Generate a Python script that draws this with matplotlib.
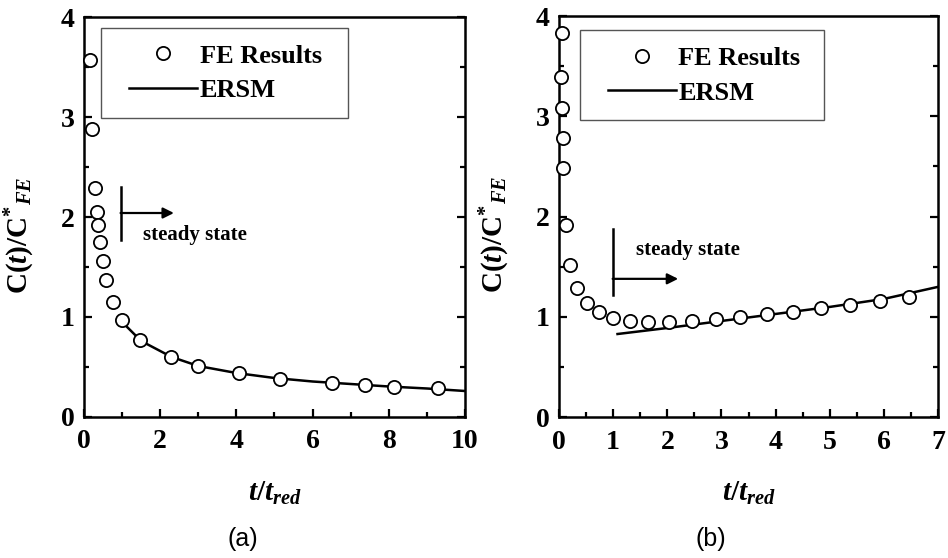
import matplotlib
matplotlib.use("Agg")
import matplotlib.pyplot as plt
from matplotlib.ticker import MultipleLocator
from matplotlib.legend_handler import HandlerLine2D

plt.rcParams["font.family"] = ["Liberation Serif", "DejaVu Serif"]
plt.rcParams["font.weight"] = "bold"
plt.rcParams["mathtext.fontset"] = "custom"
plt.rcParams["mathtext.it"] = "Liberation Serif:italic:bold"
plt.rcParams["mathtext.rm"] = "Liberation Serif:bold"
plt.rcParams["mathtext.bf"] = "Liberation Serif:bold"

# ---- panel (a) data ----
fe_a_x = [0.16, 0.22, 0.29, 0.33, 0.36, 0.42, 0.49, 0.58, 0.77, 1.01, 1.47,
          2.28, 2.99, 4.06, 5.14, 6.52, 7.38, 8.14, 9.28]
fe_a_y = [3.57, 2.88, 2.29, 2.05, 1.92, 1.75, 1.56, 1.37, 1.15, 0.97, 0.77,
          0.60, 0.51, 0.44, 0.38, 0.34, 0.32, 0.30, 0.29]
ersm_a_x = [1.0, 1.5, 2.3, 3.0, 4.0, 5.0, 6.0, 7.0, 8.0, 9.0, 10.0]
ersm_a_y = [0.95, 0.76, 0.60, 0.51, 0.44, 0.39, 0.355, 0.33, 0.305, 0.285, 0.26]

# ---- panel (b) data ----
fe_b_x = [0.06, 0.03, 0.05, 0.07, 0.08, 0.12, 0.20, 0.33, 0.51, 0.73, 1.00,
          1.31, 1.65, 2.04, 2.45, 2.90, 3.35, 3.84, 4.32, 4.84, 5.38, 5.92, 6.46]
fe_b_y = [3.83, 3.39, 3.08, 2.78, 2.48, 1.92, 1.52, 1.29, 1.14, 1.05, 0.99,
          0.96, 0.95, 0.95, 0.96, 0.98, 1.00, 1.03, 1.05, 1.09, 1.12, 1.16, 1.20]
ersm_b_x = [1.08, 2.0, 3.0, 4.0, 5.0, 6.0, 7.0]
ersm_b_y = [0.83, 0.89, 0.96, 1.03, 1.10, 1.18, 1.30]

fig = plt.figure(figsize=(9.48, 5.58), dpi=100)
ax_a = fig.add_axes([0.0886, 0.2527, 0.4019, 0.7168])
ax_b = fig.add_axes([0.5897, 0.2522, 0.3998, 0.7191])


def style_axes(ax, xmax, xmajor, xminor):
    ax.set_xlim(0, xmax)
    ax.set_ylim(0, 4)
    ax.xaxis.set_major_locator(MultipleLocator(xmajor))
    ax.xaxis.set_minor_locator(MultipleLocator(xminor))
    ax.yaxis.set_major_locator(MultipleLocator(1))
    ax.yaxis.set_minor_locator(MultipleLocator(0.5))
    for s in ax.spines.values():
        s.set_linewidth(1.8)
    ax.tick_params(which="both", direction="in", top=False, right=True,
                   width=1.6, labelsize=20)
    ax.tick_params(which="major", length=6)
    ax.tick_params(which="minor", length=3.5)
    ax.tick_params(axis="x", pad=9)
    ax.tick_params(axis="y", pad=7)
    for lab in ax.get_xticklabels() + ax.get_yticklabels():
        lab.set_fontweight("bold")
    ax.set_xlabel(r"$t/t_{red}$", fontsize=21, labelpad=18)
    ax.set_ylabel(r"$\mathbf{C}(t)/\mathbf{C}^{*}{}_{FE}$", fontsize=21)
    ax.yaxis.set_label_coords(-0.124, 0.455)


def draw_panel(ax, fx, fy, ex, ey, leg_box):
    ax.plot(fx, fy, "o", ms=9.5, mfc="white", mec="black", mew=1.3,
            clip_on=False, zorder=3, label="FE Results")
    ax.plot(ex, ey, "-", color="black", lw=1.8, zorder=2, label="ERSM")
    leg = ax.legend(loc="upper left", bbox_to_anchor=leg_box, mode="expand",
                    prop={"family": "Liberation Serif", "weight": "bold", "size": 19},
                    handlelength=3.05, handletextpad=0.08, borderpad=0.6,
                    labelspacing=0.43, fancybox=False, framealpha=1,
                    edgecolor="#555555", borderaxespad=0,
                    handler_map={matplotlib.lines.Line2D: HandlerLine2D(xpad=0.45)})
    leg.get_frame().set_linewidth(1.0)


style_axes(ax_a, 10, 2, 1)
draw_panel(ax_a, fe_a_x, fe_a_y, ersm_a_x, ersm_a_y, (0.045, 0.972, 0.647, 0.0))
style_axes(ax_b, 7, 1, 0.5)
draw_panel(ax_b, fe_b_x, fe_b_y, ersm_b_x, ersm_b_y, (0.055, 0.964, 0.645, 0.0))

# steady state markers
ax_a.plot([0.96, 0.96], [1.77, 2.30], color="black", lw=1.8)
ax_a.annotate("", xy=(2.36, 2.04), xytext=(0.96, 2.04),
              arrowprops=dict(arrowstyle="-|>", color="black", lw=1.6,
                              mutation_scale=16, shrinkA=0, shrinkB=0))
ax_a.text(1.56, 1.82, "steady state", fontsize=15, fontweight="bold",
          va="center", ha="left")

ax_b.plot([0.99, 0.99], [1.22, 1.88], color="black", lw=1.8)
ax_b.annotate("", xy=(2.2, 1.38), xytext=(0.99, 1.38),
              arrowprops=dict(arrowstyle="-|>", color="black", lw=1.6,
                              mutation_scale=16, shrinkA=0, shrinkB=0))
ax_b.text(1.42, 1.67, "steady state", fontsize=15, fontweight="bold",
          va="center", ha="left")

fig.text(243 / 948, 1 - 539 / 558, "(a)", family="Liberation Sans",
         fontweight="normal", fontsize=18, ha="center", va="center")
fig.text(711 / 948, 1 - 539 / 558, "(b)", family="Liberation Sans",
         fontweight="normal", fontsize=18, ha="center", va="center")

fig.savefig("out.png", dpi=100)
